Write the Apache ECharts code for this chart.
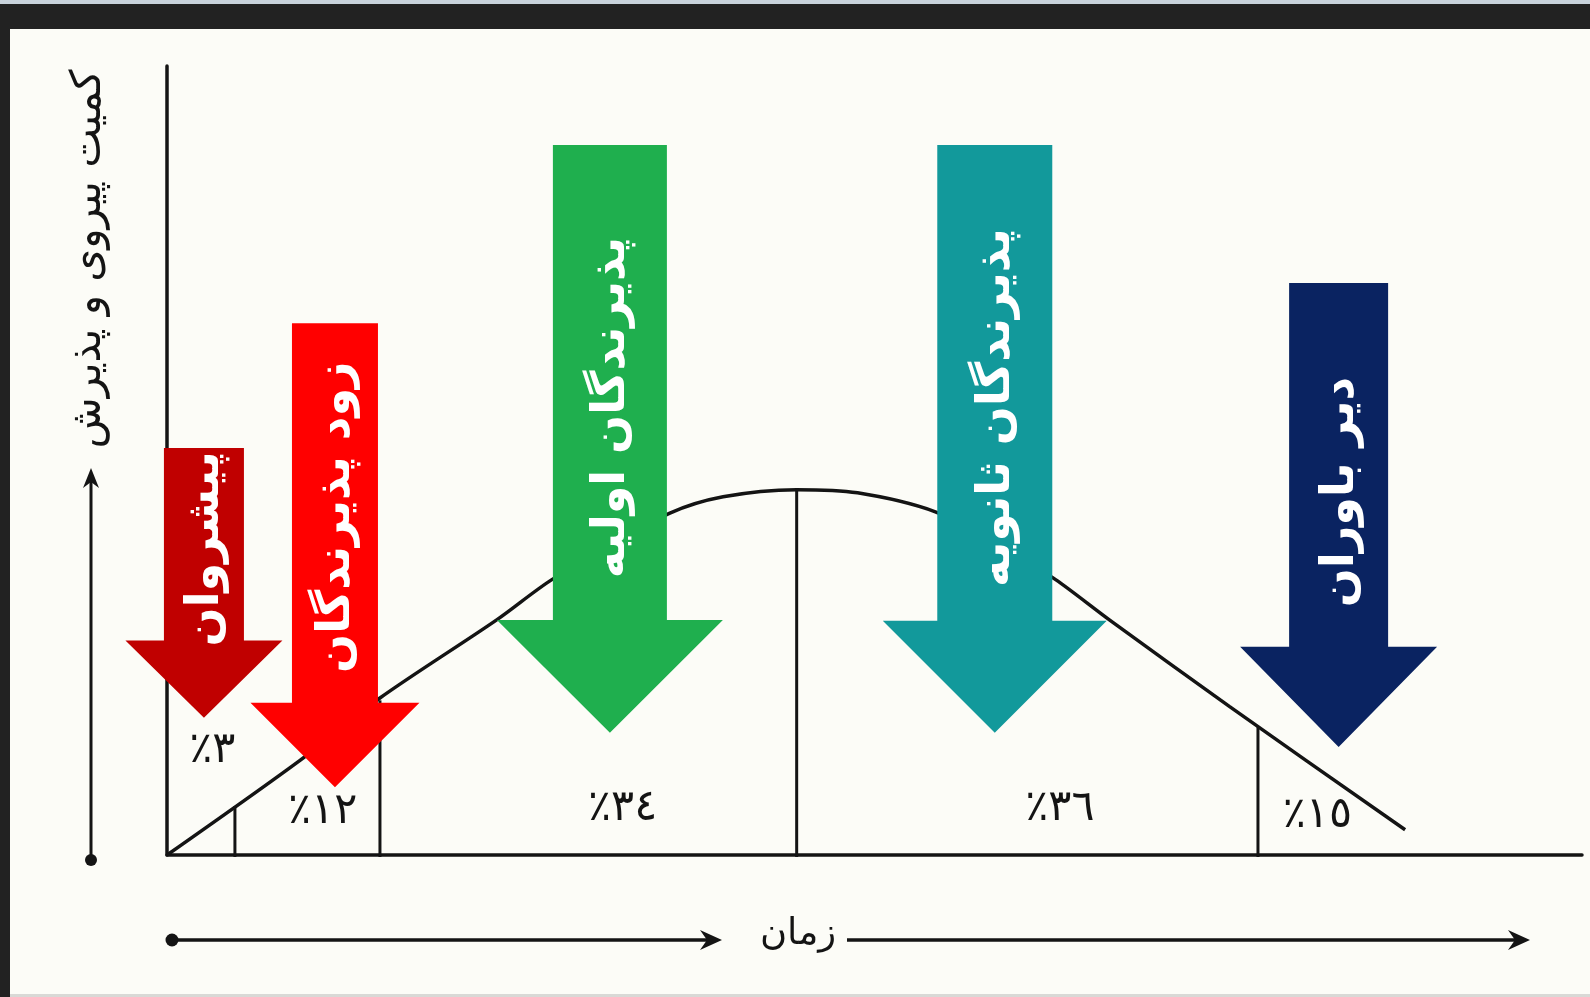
<!DOCTYPE html>
<html lang="fa">
<head>
<meta charset="utf-8">
<title>منحنی پذیرش</title>
<script src="https://cdn.jsdelivr.net/npm/echarts@6/dist/echarts.min.js"></script>
<style>
  html, body { margin: 0; padding: 0; background: #fcfcf7; }
  #chart { width: 1590px; height: 997px; }
</style>
</head>
<body>
<div id="chart"></div>
<script>
// گروه‌های پذیرش و سهم هر گروه (درصد)
const groupNames = ['پیشروان', 'زود پذیرندگان', 'پذیرندگان اولیه', 'پذیرندگان ثانویه', 'دیر باوران'];
const groupShares = [3, 12, 34, 36, 15];

// منحنی پذیرش (زمان، کمیت)
const curveX = [0, 9.4, 15.05, 23.3, 27.2, 31.3, 35.5, 39.3, 44.5, 48.8, 54.3, 58.9, 62.8, 66.6, 75.1, 87.5];
const curveY = [0, 12.0, 19.9, 29.8, 34.9, 38.9, 43.3, 45.4, 46.3, 45.9, 43.5, 39.3, 34.9, 29.8, 18.8, 3.2];

// مرز بین گروه‌ها روی محور زمان و ارتفاع منحنی در آن نقطه
const cutX = [4.8, 15.05, 44.5, 77.1];
const cutY = [6.2, 19.6, 46.3, 16.2];

// جای برچسب درصدها
const shareX = [3.2, 11.0, 32.2, 63.1, 81.3];
const shareY = [13.2, 5.5, 5.8, 5.8, 5.0];

// فلش‌ها: مرکز، بالای ساقه، پایه سر، نوک، مرکز متن
const arrowX = [2.61, 11.87, 31.3, 58.5, 82.8];
const arrowTop = [51.6, 67.4, 90.0, 90.0, 72.5];
const arrowNeck = [27.2, 19.3, 29.8, 29.7, 26.4];
const arrowTip = [17.4, 8.6, 15.5, 15.5, 13.7];
const arrowLabelY = [38.8, 42.8, 56.7, 56.7, 46.0];

// ظاهر فلش‌ها
const arrowColors = ['#c00000', '#ff0000', '#1faf4e', '#12999b', '#0a2361'];
const shaftWidth = [80, 86, 114, 115, 99];
const headWidth = [157, 169, 226, 224, 197];

const FONT = '"DejaVu Sans", sans-serif';
const INK = '#141414';

function toArabicDigits(n) {
    return String(n).replace(/\d/g, d => '٠١٢٣٤٥٦٧٨٩'[d]);
}

const chart = echarts.init(document.getElementById('chart'));

const option = {
    animation: false,
    backgroundColor: '#fcfcf7',
    grid: { left: 167, top: 66, right: 8, bottom: 142 },
    xAxis: {
        type: 'value', min: 0, max: 100,
        axisLine: { show: true, lineStyle: { color: INK, width: 3.5 } },
        axisTick: { show: false }, axisLabel: { show: false }, splitLine: { show: false }
    },
    yAxis: {
        type: 'value', min: 0, max: 100,
        axisLine: { show: true, lineStyle: { color: INK, width: 3.5 } },
        axisTick: { show: false }, axisLabel: { show: false }, splitLine: { show: false }
    },
    series: [
        {
            // منحنی
            type: 'line',
            data: curveX.map((x, i) => [x, curveY[i]]),
            showSymbol: false,
            smooth: 0.3,
            lineStyle: { color: INK, width: 3.5 },
            z: 2
        },
        {
            // خطوط مرز گروه‌ها
            type: 'custom',
            data: cutX.map((x, i) => [x, cutY[i]]),
            renderItem: function (params, api) {
                const p0 = api.coord([api.value(0), 0]);
                const p1 = api.coord([api.value(0), api.value(1)]);
                return {
                    type: 'line',
                    shape: { x1: p0[0], y1: p0[1] + 2, x2: p1[0], y2: p1[1] },
                    style: { stroke: INK, lineWidth: 3 }
                };
            },
            z: 2
        },
        {
            // درصدها
            type: 'custom',
            data: shareX.map((x, i) => [x, shareY[i], groupShares[i]]),
            renderItem: function (params, api) {
                const p = api.coord([api.value(0), api.value(1)]);
                return {
                    type: 'text',
                    x: p[0], y: p[1],
                    style: {
                        text: '٪' + toArabicDigits(api.value(2)),
                        font: '43px ' + FONT,
                        fill: INK, align: 'center', verticalAlign: 'middle'
                    }
                };
            },
            z: 3
        },
        {
            // فلش‌های گروه‌ها
            type: 'custom',
            data: arrowX.map((x, i) => [x, arrowTop[i], arrowNeck[i], arrowTip[i], arrowLabelY[i]]),
            renderItem: function (params, api) {
                const i = params.dataIndex;
                const top = api.coord([api.value(0), api.value(1)]);
                const neck = api.coord([api.value(0), api.value(2)]);
                const tip = api.coord([api.value(0), api.value(3)]);
                const lab = api.coord([api.value(0), api.value(4)]);
                const cx = top[0], sw = shaftWidth[i] / 2, hw = headWidth[i] / 2;
                return {
                    type: 'group',
                    children: [
                        {
                            type: 'polygon',
                            shape: {
                                points: [
                                    [cx - sw, top[1]], [cx + sw, top[1]],
                                    [cx + sw, neck[1]], [cx + hw, neck[1]],
                                    [cx, tip[1]],
                                    [cx - hw, neck[1]], [cx - sw, neck[1]]
                                ]
                            },
                            style: { fill: arrowColors[i] }
                        },
                        {
                            type: 'text',
                            x: cx + 2, y: lab[1],
                            rotation: Math.PI / 2,
                            style: {
                                text: groupNames[i],
                                font: 'bold 46px ' + FONT,
                                fill: '#ffffff', align: 'center', verticalAlign: 'middle'
                            }
                        }
                    ]
                };
            },
            z: 5
        }
    ],
    graphic: [
        // قاب تیره بالا و چپ
        { type: 'rect', shape: { x: 0, y: 0, width: 1590, height: 4 }, style: { fill: '#c9d3dc' }, z: 10 },
        { type: 'rect', shape: { x: 0, y: 4, width: 1590, height: 25 }, style: { fill: '#222222' }, z: 10 },
        { type: 'rect', shape: { x: 0, y: 29, width: 10, height: 968 }, style: { fill: '#222222' }, z: 10 },
        { type: 'rect', shape: { x: 10, y: 994, width: 1580, height: 3 }, style: { fill: '#d9d9d6' }, z: 10 },

        // محور عمودی بیرونی
        { type: 'line', shape: { x1: 91, y1: 860, x2: 91, y2: 480 }, style: { stroke: INK, lineWidth: 3 } },
        { type: 'polygon', shape: { points: [[91, 468], [83, 488], [91, 482], [99, 488]] }, style: { fill: INK } },
        { type: 'circle', shape: { cx: 91, cy: 860, r: 6 }, style: { fill: INK } },
        {
            type: 'text', x: 89, y: 259, rotation: Math.PI / 2,
            style: { text: 'کمیت پیروی و پذیرش', font: '42px ' + FONT, fill: INK, align: 'center', verticalAlign: 'middle' }
        },

        // محور زمان بیرونی
        { type: 'circle', shape: { cx: 172, cy: 940, r: 6.5 }, style: { fill: INK } },
        { type: 'line', shape: { x1: 172, y1: 940, x2: 712, y2: 940 }, style: { stroke: INK, lineWidth: 3.5 } },
        { type: 'polygon', shape: { points: [[722, 940], [700, 930], [707, 940], [700, 950]] }, style: { fill: INK } },
        {
            type: 'text', x: 798, y: 934,
            style: { text: 'زمان', font: '37px ' + FONT, fill: INK, align: 'center', verticalAlign: 'middle' }
        },
        { type: 'line', shape: { x1: 847, y1: 940, x2: 1520, y2: 940 }, style: { stroke: INK, lineWidth: 3.5 } },
        { type: 'polygon', shape: { points: [[1530, 940], [1508, 930], [1515, 940], [1508, 950]] }, style: { fill: INK } }
    ]
};

chart.setOption(option);
window.addEventListener('resize', function () { chart.resize(); });
</script>
</body>
</html>
